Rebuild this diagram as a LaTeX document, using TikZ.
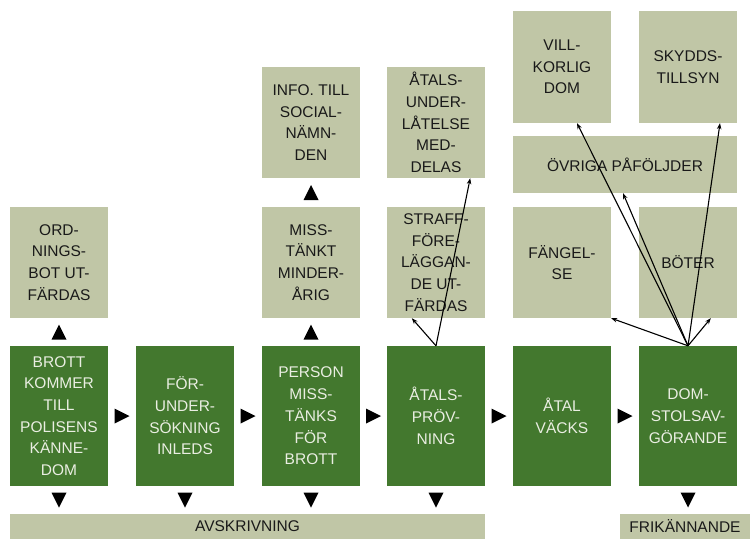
\documentclass[tikz,border=0pt]{standalone}
\usepackage{fontspec}
\setmainfont{Liberation Sans}
\usetikzlibrary{calc,arrows.meta}
\definecolor{dgreen}{RGB}{67,120,46}
\definecolor{lgreen}{RGB}{192,198,166}
\definecolor{wtext}{RGB}{234,238,226}
\definecolor{btext}{RGB}{25,25,25}
\begin{document}
\begin{tikzpicture}[x=1pt,y=-1pt,
  base/.style={inner sep=0pt, align=center, font=\fontsize{15.5}{21.7}\selectfont},
  dark/.style={base, fill=dgreen, text=wtext, minimum width=98pt, minimum height=140pt},
  light/.style={base, fill=lgreen, text=btext, minimum width=98pt, minimum height=111pt},
  bar/.style={base, fill=lgreen, text=btext, minimum height=25pt},
  arr/.style={line width=1.1pt, -{Stealth[length=6pt,width=4.5pt]}},
  rtri/.pic={\fill (-7.5,-7.5) -- (7.5,0) -- (-7.5,7.5) -- cycle;},
  dtri/.pic={\fill (-7.5,-7.5) -- (7.5,-7.5) -- (0,7.5) -- cycle;},
  utri/.pic={\fill (-7.5,7.5) -- (7.5,7.5) -- (0,-7.5) -- cycle;}]
\useasboundingbox (0,0) rectangle (750,539);
% main row
\node[dark] (b1) at (59,416) {BROTT\\KOMMER\\TILL\\POLISENS\\KÄNNE-\\DOM};
\node[dark] (b2) at (185,416) {FÖR-\\UNDER-\\SÖKNING\\INLEDS};
\node[dark] (b3) at (311,416) {PERSON\\MISS-\\TÄNKS\\FÖR\\BROTT};
\node[dark] (b4) at (436,416) {ÅTALS-\\PRÖV-\\NING};
\node[dark] (b5) at (562,416) {ÅTAL\\VÄCKS};
\node[dark] (b6) at (688,416) {DOM-\\STOLSAV-\\GÖRANDE};
% bottom bars
\node[bar, minimum width=475pt] (avs) at (247.5,526.5) {AVSKRIVNING};
\node[bar, minimum width=130pt] (fri) at (685,526.5) {FRIKÄNNANDE};
% light boxes
\node[light] (ord) at (59,262.5) {ORD-\\NINGS-\\BOT UT-\\FÄRDAS};
\node[light] (mis) at (311,262.5) {MISS-\\TÄNKT\\MINDER-\\ÅRIG};
\node[light] (info) at (311,122.5) {INFO. TILL\\SOCIAL-\\NÄMN-\\DEN};
\node[light] (straff) at (436,262.5) {STRAFF-\\FÖRE-\\LÄGGAN-\\DE UT-\\FÄRDAS};
\node[light] (unde) at (436,122.5) {ÅTALS-\\UNDER-\\LÅTELSE\\MED-\\DELAS};
\node[light] (fang) at (562,262.5) {FÄNGEL-\\SE};
\node[light] (bot) at (688,262.5) {BÖTER};
\node[base, fill=lgreen, text=btext, minimum width=224pt, minimum height=57pt] (ovr) at (625,164.5) {ÖVRIGA PÅFÖLJDER};
\node[light, minimum height=112pt] (vill) at (562,67) {VILL-\\KORLIG\\DOM};
\node[light, minimum height=112pt] (skyd) at (688,67) {SKYDDS-\\TILLSYN};
% triangles (arrows)
\pic at ($(b1.east)!0.5!(b2.west)$) {rtri};
\pic at ($(b2.east)!0.5!(b3.west)$) {rtri};
\pic at ($(b3.east)!0.5!(b4.west)$) {rtri};
\pic at ($(b4.east)!0.5!(b5.west)$) {rtri};
\pic at ($(b5.east)!0.5!(b6.west)$) {rtri};
\pic at ($(b1.south)!0.5!(b1.south |- avs.north)$) {dtri};
\pic at ($(b2.south)!0.5!(b2.south |- avs.north)$) {dtri};
\pic at ($(b3.south)!0.5!(b3.south |- avs.north)$) {dtri};
\pic at ($(b4.south)!0.5!(b4.south |- avs.north)$) {dtri};
\pic at ($(b6.south)!0.5!(b6.south |- fri.north)$) {dtri};
\pic at ($(ord.south)!0.5!(b1.north)$) {utri};
\pic at ($(mis.south)!0.5!(b3.north)$) {utri};
\pic at ($(info.south)!0.5!(mis.north)$) {utri};
% connectors
\coordinate (t1) at ($(straff.south west)+(25,0)$);
\coordinate (t2) at ($(unde.south east)+(-15,0)$);
\coordinate (t3) at ($(bot.south west)+(72,0)$);
\coordinate (t4) at ($(ovr.south)+(-2,0)$);
\coordinate (t5) at ($(vill.south)+(15,0)$);
\coordinate (t6) at ($(skyd.south)+(32,0)$);
\draw[arr] (b4.north) -- (t1);
\draw[arr] (b4.north) -- (t2);
\draw[arr] (b6.north) -- (fang.south east);
\draw[arr] (b6.north) -- (t3);
\draw[arr] (b6.north) -- (t4);
\draw[arr] (b6.north) -- (t5);
\draw[arr] (b6.north) -- (t6);
\end{tikzpicture}
\end{document}
